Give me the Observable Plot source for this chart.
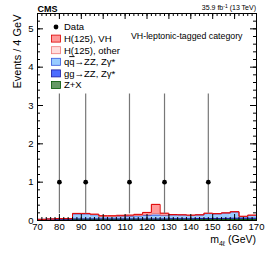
<!DOCTYPE html>
<html><head><meta charset="utf-8">
<script src="https://cdn.jsdelivr.net/npm/d3@7"></script>
<script src="https://cdn.jsdelivr.net/npm/@observablehq/plot@0.6"></script>
<style>
html,body{margin:0;padding:0;background:#fff;}
svg{font-family:"Liberation Sans",Arial,sans-serif;}
</style>
</head><body><div id="chart"></div>
<script>
// ---- data ----
const binLow = [70,74,78,82,86,90,94,98,102,106,110,114,118,122,126,130,134,138,142,146,150,154,158,162,166];
const binWidth = 4;
const zx     = [0.01,0.01,0.02,0.02,0.03,0.03,0.03,0.03,0.03,0.03,0.03,0.03,0.03,0.03,0.03,0.03,0.03,0.03,0.03,0.03,0.03,0.03,0.03,0.03,0.03];
const ggZZ   = [0.01,0.01,0.01,0.01,0.01,0.01,0.01,0.01,0.01,0.01,0.01,0.01,0.01,0.01,0.01,0.015,0.015,0.015,0.02,0.02,0.02,0.025,0.03,0.03,0.03];
const qqZZ   = [0.01,0.02,0.02,0.02,0.13,0.13,0.11,0.06,0.06,0.07,0.07,0.08,0.09,0.10,0.09,0.095,0.095,0.085,0.09,0.13,0.12,0.135,0.16,0.04,0.07];
const hOther = [0,0,0,0,0.005,0.005,0.005,0.005,0.005,0.005,0.01,0.01,0.02,0.04,0.01,0.005,0.005,0.005,0.005,0.005,0.005,0.005,0.005,0.005,0.005];
const hVH    = [0,0,0,0,0.01,0.01,0.01,0.02,0.02,0.02,0.02,0.03,0.06,0.24,0.05,0.01,0.005,0.005,0.005,0.005,0.005,0.005,0.005,0.005,0.005];
const dataMass  = [80,92,112,128,148];
const dataCount = [1,1,1,1,1];
const dataErrLo = [0.173,0.173,0.173,0.173,0.173];
const dataErrHi = [3.30,3.30,3.30,3.30,3.30];
const xMajor = [70,80,90,100,110,120,130,140,150,160,170];
const xMinor = d3.range(70,171,2);
const yMajor = [0,1,2,3,4,5];
const yMinor = d3.range(0,5.41,0.2);

// series (bottom to top)
const series = [
  {name:"Z+X", vals:zx, fill:"#669966", stroke:"#005500"},
  {name:"gg\u2192ZZ, Z\u03b3*", vals:ggZZ, fill:"#4d6dff", stroke:"#1a1aa0"},
  {name:"qq\u2192ZZ, Z\u03b3*", vals:qqZZ, fill:"#99ccff", stroke:"#3355dd"},
  {name:"H(125), other", vals:hOther, fill:"#ffdddd", stroke:"#ee7777"},
  {name:"H(125), VH", vals:hVH, fill:"#ff9999", stroke:"#dd0000"}
];
const rects = [], outlines = [];
const cum = binLow.map(()=>0);
series.forEach((s,si)=>{
  binLow.forEach((lo,i)=>{
    const y1 = cum[i], y2 = cum[i]+s.vals[i];
    rects.push({x1:lo, x2:lo+binWidth, y1, y2, s:si});
    outlines.push({x:lo, y:y2, s:si});
    outlines.push({x:lo+binWidth, y:y2, s:si});
    cum[i] = y2;
  });
});
const points = dataMass.map((m,i)=>({m, n:dataCount[i], lo:dataErrLo[i], hi:dataErrHi[i]}));

const W = 266, H = 253, mL = 37, mR = 10, mT = 13, mB = 33;
const plotH = H - mT - mB, plotW = W - mL - mR;

const chart = Plot.plot({
  width: W, height: H,
  marginLeft: mL, marginRight: mR, marginTop: mT, marginBottom: mB,
  style: {fontFamily: '"Liberation Sans",Arial,sans-serif', background: "#fff"},
  x: {domain: [70,170]},
  y: {domain: [0,5.4]},
  marks: [
    Plot.rect(rects, {x1:"x1", x2:"x2", y1:"y1", y2:"y2", fill: d=>series[d.s].fill}),
    ...series.map((s,si)=>Plot.line(outlines.filter(d=>d.s===si), {x:"x", y:"y", stroke:s.stroke, strokeWidth:1})),
    Plot.ruleX(points, {x:"m", y1:"lo", y2:"hi", stroke:"#777", strokeWidth:1.2}),
    Plot.dot(points, {x:"m", y:"n", r:2.4, fill:"#000"}),
    // inward ticks
    Plot.tickX(xMinor, {x:d=>d, insetTop: plotH-3, stroke:"#000"}),
    Plot.tickX(xMinor, {x:d=>d, insetBottom: plotH-3, stroke:"#000"}),
    Plot.tickX(xMajor, {x:d=>d, insetTop: plotH-6, stroke:"#000"}),
    Plot.tickX(xMajor, {x:d=>d, insetBottom: plotH-6, stroke:"#000"}),
    Plot.tickY(yMinor, {y:d=>d, insetRight: plotW-3, stroke:"#000"}),
    Plot.tickY(yMinor, {y:d=>d, insetLeft: plotW-3, stroke:"#000"}),
    Plot.tickY(yMajor, {y:d=>d, insetRight: plotW-6, stroke:"#000"}),
    Plot.tickY(yMajor, {y:d=>d, insetLeft: plotW-6, stroke:"#000"}),
    Plot.frame({stroke:"#000", strokeWidth:1}),
    Plot.axisX({ticks: xMajor, tickSize: 0, tickPadding: 3, tickFormat: d3.format("d"), label: null, fontSize: 9.5, fill:"#000"}),
    Plot.axisY({ticks: yMajor, tickSize: 0, tickPadding: 4, tickFormat: d3.format("d"), label: null, fontSize: 9.5, fill:"#000"}),
    Plot.text(["Events / 4 GeV"], {frameAnchor:"top-left", rotate:-90, textAnchor:"end", dx:-24, dy:1, fontSize:11, fill:"#000"}),
    Plot.text(["CMS"], {frameAnchor:"top-left", textAnchor:"start", lineAnchor:"bottom", dx:0, dy:-2, fontSize:9, fontWeight:"bold", fill:"#000"}),
    Plot.text(["VH-leptonic-tagged category"], {frameAnchor:"top-right", textAnchor:"end", dx:-14, dy:19, fontSize:8.8, fill:"#000"})
  ]
});
document.getElementById("chart").appendChild(chart);

const svg = d3.select(chart);
// luminosity label with superscript
const lumi = svg.append("text").attr("x", W - mR).attr("y", mT - 3)
  .attr("text-anchor","end").attr("font-size",7).attr("fill","#000");
lumi.append("tspan").text("35.9 fb");
lumi.append("tspan").attr("dy",-2.5).attr("font-size",5).text("-1");
lumi.append("tspan").attr("dy",2.5).text(" (13 TeV)");

// x-axis title with subscript
const xl = svg.append("text").attr("x", W - mR).attr("y", H - 10)
  .attr("text-anchor","end").attr("font-size",10.5).attr("fill","#000");
xl.append("tspan").text("m");
xl.append("tspan").attr("dy",2.5).attr("font-size",7).text("4\u2113");
xl.append("tspan").attr("dy",-2.5).text(" (GeV)");

// legend
const legItems = [
  {label:"Data", type:"dot"},
  ...series.slice().reverse().map(s=>({label:s.name, type:"box", fill:s.fill, stroke:s.stroke}))
];
const lg = svg.append("g").attr("font-size",9.5).attr("fill","#000").attr("text-anchor","start");
legItems.forEach((it,i)=>{
  const cy = mT + 14 + i*11.6;
  if (it.type==="dot") {
    lg.append("circle").attr("cx", mL+19).attr("cy", cy).attr("r", 2.4).attr("fill","#000");
  } else {
    lg.append("rect").attr("x", mL+14.5).attr("y", cy-3.5).attr("width",9).attr("height",7)
      .attr("fill", it.fill).attr("stroke", it.stroke).attr("stroke-width",0.8);
  }
  const t = lg.append("text").attr("x", mL+27).attr("y", cy).attr("dy","0.35em");
  if (it.label.startsWith("qq")) {
    t.append("tspan").text("q");
    t.append("tspan").attr("text-decoration","overline").text("q");
    t.append("tspan").text("\u2192ZZ, Z\u03b3*");
  } else t.text(it.label);
});
</script>
</body></html>
